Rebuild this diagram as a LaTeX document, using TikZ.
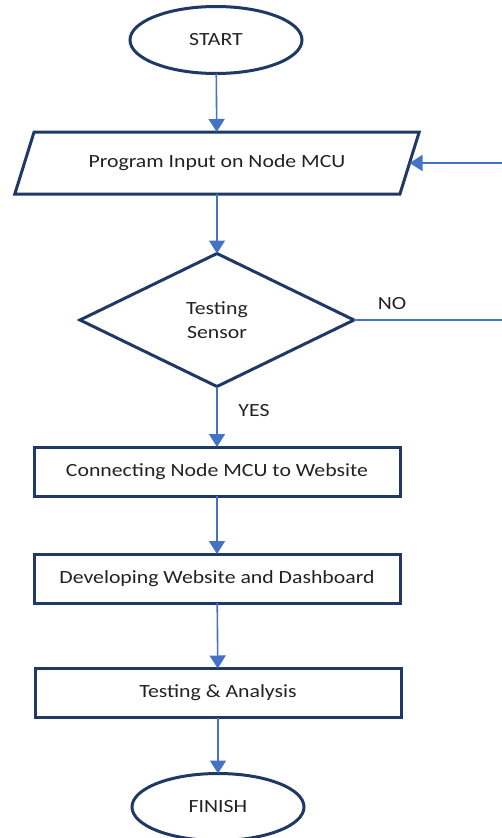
\documentclass[tikz,border=0pt]{standalone}
\usepackage{fontspec}
\setmainfont[FakeStretch=1.17]{Carlito}
\usetikzlibrary{shapes.geometric,arrows.meta}
\definecolor{boxline}{HTML}{203864}
\definecolor{flowblue}{HTML}{4472C4}
\definecolor{textgray}{HTML}{222222}
\begin{document}
\begin{tikzpicture}[x=1pt,y=-1pt,
    every node/.style={text=textgray,font=\fontsize{18.6}{22}\selectfont},
    terminal/.style={ellipse,draw=boxline,line width=3pt,minimum width=172pt,minimum height=67pt,inner sep=0pt,outer sep=0pt},
    inputbox/.style={trapezium,trapezium left angle=50,trapezium right angle=130,trapezium stretches=true,draw=boxline,line width=3pt,minimum width=406pt,minimum height=62pt,inner sep=0pt,outer sep=0pt},
    decision/.style={diamond,draw=boxline,line width=3pt,minimum width=274pt,minimum height=133pt,inner sep=0pt,outer sep=0pt,align=center},
    process/.style={rectangle,draw=boxline,line width=3pt,minimum width=366pt,minimum height=49pt,inner sep=0pt,outer sep=0pt},
    flow/.style={draw=flowblue,line width=1.6pt,-{Triangle[width=16pt,length=13pt]}},
    plain/.style={draw=flowblue,line width=1.6pt}]
    \useasboundingbox (0,0) rectangle (502,838);
    % Nodes
    \node[terminal] (start) at (216,40) {START};
    \node[inputbox] (input) at (217,163) {Program Input on Node MCU};
    \node[decision] (test) at (217,320) {Testing\\[2pt]Sensor};
    \node[process] (connect) at (217,471.5) {Connecting Node MCU to Website};
    \node[process] (develop) at (217,578.5) {Developing Website and Dashboard};
    \node[process] (analysis) at (218,693) {Testing \& Analysis};
    \node[terminal] (finish) at (218,807) {FINISH};
    \node (no) at (392,304) {NO};
    \node (yes) at (254,411) {YES};
    \coordinate (noend) at (502,320);
    \coordinate (back) at (502,163);
    % Edges
    \draw[flow] (start) -- (input);
    \draw[flow] (input) -- (test);
    \draw[flow] (test) -- (connect);
    \draw[flow] (connect) -- (develop);
    \draw[flow] (develop) -- (analysis);
    \draw[flow] (analysis) -- (finish);
    \draw[plain] (test.east) -- (noend);
    \draw[flow] (back) -- (input.east);
\end{tikzpicture}
\end{document}
